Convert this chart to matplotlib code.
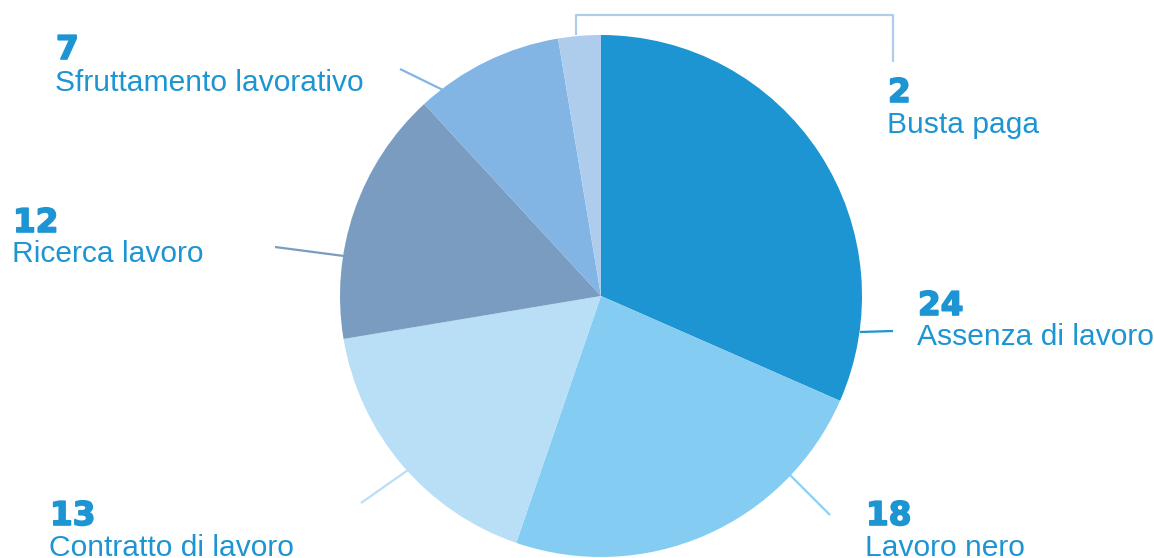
#!/usr/bin/env python3

import matplotlib
matplotlib.use("Agg")
import matplotlib.pyplot as plt
import matplotlib.patheffects as pe

# data
categories = ["Assenza di lavoro", "Lavoro nero", "Contratto di lavoro",
              "Ricerca lavoro", "Sfruttamento lavorativo", "Busta paga"]
values = [24, 18, 13, 12, 7, 2]
colors = ["#1E95D3", "#84CCF2", "#B9DFF6", "#7A9CC0", "#82B5E3", "#AECDED"]

W, H = 1154, 558
TEXT_BLUE = "#1E95D3"


def py(y):
    # pixel row (top-down) -> data y (bottom-up)
    return H - y


# label anchors: (left x, number baseline, label baseline) in pixel rows
label_pos = {
    "Assenza di lavoro": (917, 315, 345),
    "Lavoro nero": (865, 525, 556),
    "Contratto di lavoro": (49, 525, 556),
    "Ricerca lavoro": (12, 232, 262),
    "Sfruttamento lavorativo": (55, 59, 91),
    "Busta paga": (887, 102, 133),
}

# leader lines in pixel coords
leaders = {
    "Assenza di lavoro": [(860, 332), (893, 331)],
    "Lavoro nero": [(790, 475), (830, 515)],
    "Contratto di lavoro": [(408, 470), (361, 503)],
    "Ricerca lavoro": [(344, 256), (275, 247)],
    "Sfruttamento lavorativo": [(445, 91), (400, 69)],
    "Busta paga": [(576, 35), (576, 15), (893, 15), (893, 62)],
}


def main():
    fig = plt.figure(figsize=(W / 100, H / 100), dpi=100)
    ax = fig.add_axes([0, 0, 1, 1])

    ax.pie(values, colors=colors, startangle=90, counterclock=False,
           center=(601, py(296)), radius=261, frame=True,
           wedgeprops=dict(linewidth=0))
    ax.set_xlim(0, W)
    ax.set_ylim(0, H)
    ax.set_aspect("equal")
    ax.axis("off")

    heavy = [pe.withStroke(linewidth=1.2, foreground=TEXT_BLUE)]
    for i, cat in enumerate(categories):
        pts = leaders[cat]
        lc = colors[i] if cat != "Lavoro nero" else "#8DCFF1"
        ax.plot([p[0] for p in pts], [py(p[1]) for p in pts],
                color=lc, lw=1.6, solid_capstyle="butt", zorder=0)

        x, yn, yl = label_pos[cat]
        ax.text(x + 1, py(yn), str(values[i]), color=TEXT_BLUE, fontsize=23.5,
                fontfamily="DejaVu Sans", fontweight="bold",
                ha="left", va="baseline", path_effects=heavy)
        ax.text(x, py(yl), cat, color=TEXT_BLUE, fontsize=21.6,
                fontfamily=["Liberation Sans", "DejaVu Sans"],
                ha="left", va="baseline")

    fig.savefig("out.png", dpi=100)


if __name__ == "__main__":
    main()
